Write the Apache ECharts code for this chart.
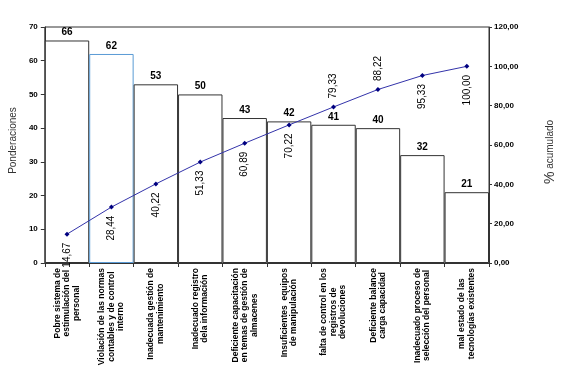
<!DOCTYPE html>
<html>
<head>
<meta charset="utf-8">
<script src="https://cdn.jsdelivr.net/npm/echarts@6/dist/echarts.min.js"></script>
<style>
html,body{margin:0;padding:0;background:#fff;}
#chart{width:567px;height:380px;}
</style>
</head>
<body>
<div id="chart"></div>
<script>
// ---- data ----
const categories = [
  "Pobre sistema de\nestimulación del\npersonal",
  "Violación de las normas\ncontables y de control\ninterno",
  "Inadecuada gestión de\nmantenimiento",
  "Inadecuado registro\ndela información",
  "Deficiente capacitación\nen temas de gestión de\nalmacenes",
  "Insuficientes  equipos\nde manipulación",
  "falta de control en los\nregistros de\ndevoluciones",
  "Deficiente balance\ncarga capacidad",
  "Inadecuado proceso de\nselección del personal",
  "mal estado de las\ntecnologías existentes"
];
const ponderaciones = [66, 62, 53, 50, 43, 42, 41, 40, 32, 21];
const acumulado = [14.67, 28.44, 40.22, 51.33, 60.89, 70.22, 79.33, 88.22, 95.33, 100.00];
const leftTicks = {min: 0, max: 70, interval: 10};
const rightTicks = {min: 0, max: 120, interval: 20};

// ---- style ----
const FONT = 'Liberation Sans, Arial, sans-serif';
const lineLabelSide = ['bottom','bottom','bottom','bottom','bottom','bottom','top','top','bottom','bottom'];
const fmt = v => Number(v).toFixed(2).replace('.', ',');

const chart = echarts.init(document.getElementById('chart'), null, {renderer: 'canvas'});
chart.setOption({
  animation: false,
  backgroundColor: '#fff',
  grid: {left: 42, right: 78, top: 27, bottom: 117, show: true, borderColor: '#333', borderWidth: 1, backgroundColor: 'transparent'},
  xAxis: {
    type: 'category',
    data: categories,
    boundaryGap: true,
    axisLine: {show: true, lineStyle: {color: '#333', width: 1}},
    axisTick: {show: true, length: 4, lineStyle: {color: '#333'}},
    axisLabel: {
      interval: 0, rotate: 90, margin: 5, align: 'right', verticalAlign: 'middle',
      fontFamily: FONT, fontSize: 8.5, fontWeight: 'bold', color: '#000', lineHeight: 9.5,
      formatter: v => v.split('\n').map(s => '{c|' + s + '}').join('\n'),
      rich: {c: {align: 'center', fontFamily: FONT, fontSize: 8.5, fontWeight: 'bold', color: '#000', lineHeight: 9.5}}
    }
  },
  yAxis: [
    {
      type: 'value', min: leftTicks.min, max: leftTicks.max, interval: leftTicks.interval,
      name: 'Ponderaciones', nameLocation: 'middle', nameGap: 22, nameRotate: 90,
      nameTextStyle: {fontFamily: FONT, fontSize: 10, color: '#333', padding: [0, 0, 0, 9]},
      axisLine: {show: true, lineStyle: {color: '#333'}},
      axisTick: {show: true, length: 4, lineStyle: {color: '#333'}},
      axisLabel: {fontFamily: FONT, fontSize: 8, fontWeight: 'bold', color: '#000', margin: 7},
      splitLine: {show: false}
    },
    {
      type: 'value', min: rightTicks.min, max: rightTicks.max, interval: rightTicks.interval,
      position: 'right',
      name: '{p|%} acumulado', nameLocation: 'middle', nameGap: 54, nameRotate: 90,
      nameTextStyle: {fontFamily: FONT, fontSize: 10, color: '#333', padding: [0, 14, 0, 0], rich: {p: {fontFamily: FONT, fontSize: 14, color: '#333'}}},
      axisLine: {show: true, lineStyle: {color: '#333'}},
      axisTick: {show: true, length: 3, lineStyle: {color: '#333'}},
      axisLabel: {fontFamily: FONT, fontSize: 8, fontWeight: 'bold', color: '#000', margin: 5, formatter: fmt},
      splitLine: {show: false}
    }
  ],
  series: [
    {
      type: 'bar',
      yAxisIndex: 0,
      barWidth: '100%',
      data: ponderaciones.map((v, i) => ({
        value: v,
        itemStyle: {color: '#fff', borderColor: i === 1 ? '#5a9bd5' : '#333', borderWidth: 1}
      })),
      label: {show: true, position: 'top', distance: 3, fontFamily: FONT, fontSize: 10, fontWeight: 'bold', color: '#000'},
      z: 2
    },
    {
      type: 'line',
      yAxisIndex: 1,
      data: acumulado.map((v, i) => ({
        value: v,
        label: lineLabelSide[i] === 'top'
          ? {position: 'top', align: 'left', verticalAlign: 'middle'}
          : {position: 'bottom', align: 'right', verticalAlign: 'middle'}
      })),
      symbol: 'diamond', symbolSize: 5,
      itemStyle: {color: '#000080'},
      lineStyle: {color: '#3333aa', width: 1},
      label: {show: true, rotate: 90, distance: 6, fontFamily: FONT, fontSize: 10, color: '#000', formatter: p => fmt(p.value)},
      z: 5
    }
  ]
});
</script>
</body>
</html>
